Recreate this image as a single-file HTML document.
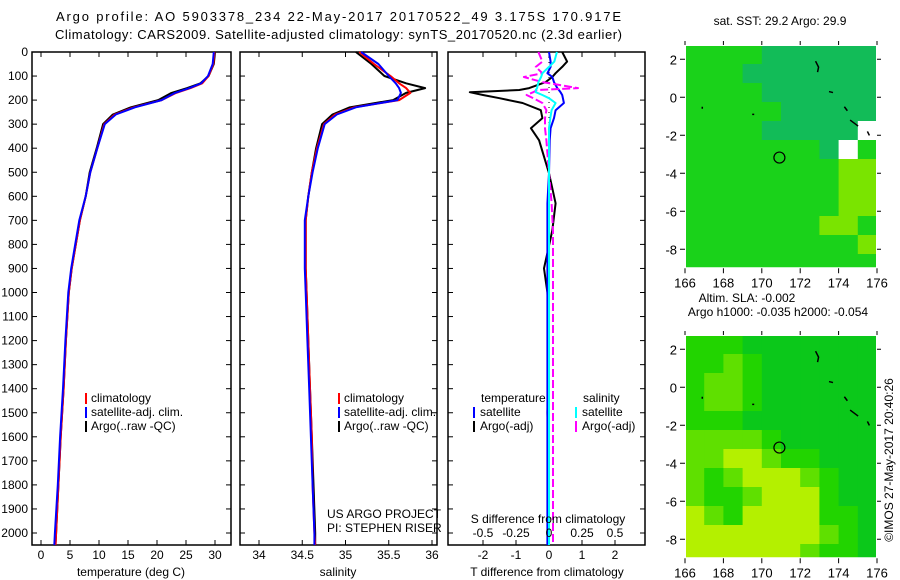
<!DOCTYPE html>
<html><head><meta charset="utf-8"><style>
html,body{margin:0;padding:0;background:#fff;}
svg{display:block;font-family:"Liberation Sans",sans-serif;}
text{fill:#000;}
</style></head><body>
<svg id="fig" width="900" height="580" viewBox="0 0 900 580">
<text x="56" y="21" font-size="13" textLength="565">Argo profile: AO 5903378_234 22-May-2017 20170522_49 3.175S 170.917E</text>
<text x="55" y="39" font-size="13" textLength="567">Climatology: CARS2009. Satellite-adjusted climatology: synTS_20170520.nc (2.3d earlier)</text>
<g id="g"></g>
</svg>
<script>
// ---- profile data ----
const depths = [0,50,100,130,150,170,200,230,260,300,400,500,600,700,800,900,1000,1200,1400,1600,1800,2000,2050];
const tempArgo = [30.0,29.8,28.9,27.5,25.2,22.5,20.2,15.5,12.4,10.7,9.6,8.4,7.7,6.7,6.0,5.3,4.8,4.3,3.9,3.4,3.0,2.6,2.5];
const tempClim = [29.9,29.7,28.9,27.8,25.8,23.3,20.8,16.0,12.7,10.9,9.7,8.5,7.7,6.7,6.0,5.3,4.8,4.3,3.9,3.4,3.0,2.6,2.5];
const tempSat  = [29.8,29.6,28.8,27.6,25.6,23.1,20.8,16.2,12.9,11.0,9.7,8.5,7.7,6.6,5.9,5.2,4.7,4.2,3.8,3.3,2.9,2.4,2.3];
const salArgo = [35.12,35.30,35.45,35.70,35.92,35.70,35.55,35.05,34.85,34.73,34.66,34.61,34.57,34.54,34.54,34.54,34.55,34.57,34.59,34.61,34.63,34.65,34.65];
const salClim = [35.16,35.33,35.52,35.62,35.70,35.75,35.62,35.10,34.88,34.75,34.67,34.61,34.57,34.54,34.54,34.54,34.55,34.57,34.59,34.61,34.62,34.64,34.65];
const salSat  = [35.18,35.38,35.50,35.58,35.62,35.64,35.60,35.12,34.90,34.76,34.68,34.62,34.57,34.53,34.53,34.53,34.54,34.56,34.58,34.60,34.62,34.64,34.64];
// ---- difference data ----
const diffDepths = [0,40,62,88,104,125,150,158,167,179,192,212,242,275,317,367,504,629,742,900,1000,1200,1500,1800,2050];
const tDiffArgo = [0.4,0.55,0.4,0.2,0.1,-0.1,-0.6,-0.9,-2.4,-2.0,-1.5,-0.8,-0.25,-0.2,-0.55,-0.3,0.0,0.2,0.1,-0.15,-0.05,0.0,-0.05,0.0,0.0];
const tDiffSat  = [0.0,0.05,0.05,-0.05,0.1,0.15,0.25,0.3,0.35,0.4,0.42,0.45,0.2,0.15,0.05,0.02,0.0,-0.05,-0.05,-0.05,-0.05,-0.05,-0.05,-0.05,-0.05];
const sDiffArgo = [-0.08,-0.05,-0.1,-0.05,-0.19,-0.05,0.22,-0.09,-0.12,-0.17,-0.12,-0.05,-0.02,-0.03,-0.03,-0.02,0.0,0.02,0.03,0.03,0.03,0.03,0.03,0.03,0.03];
const sDiffSat  = [0.06,0.04,0.0,-0.05,-0.06,-0.08,-0.09,-0.1,-0.1,-0.05,0.0,0.05,0.02,0.01,0.0,0.0,0.0,0.0,0.0,0.0,0.0,0.0,0.0,0.0,0.0];
const depthTicks = [0,100,200,300,400,500,600,700,800,900,1000,1100,1200,1300,1400,1500,1600,1700,1800,1900,2000];
const tempTicks = [0,5,10,15,20,25,30];
const salTicks = [34,34.5,35,35.5,36];
const tDiffTicks = [-2,-1,0,1,2];
const sDiffTicks = [-0.5,-0.25,0,0.25,0.5];
// ---- map data (1-degree cells, rows from north) ----
const sstGrid = ["ggggtttttt","gggttttttt","ggggtttttt","gggggttttt","ggggtttttw","gggggggtwg","ggggggggyy","ggggggggyy","ggggggggyy","gggggggyyg","gggggggggy","gggggggggg"];
const slaGrid = ["gggGGGGGGG","gglgGGGGGG","gllgGGGGGG","gllgGGGGGG","gggGGGGGGG","llllgGGGGG","llyylggGGG","lglyyylgGG","lgglyyygGG","ylgyyyyggG","yyyyyyylgG","yyyyyylggG"];
const latTicks = [2,0,-2,-4,-6,-8];
const lonTicks = [166,168,170,172,174,176];
const floatLon = 170.917, floatLat = -3.175;

const NS='http://www.w3.org/2000/svg';
const G=document.getElementById('g');
function el(tag,attrs,parent){const e=document.createElementNS(NS,tag);for(const k in attrs)e.setAttribute(k,attrs[k]);(parent||G).appendChild(e);return e;}
function txt(x,y,s,size,anchor,parent){const t=el('text',{x:x,y:y,'font-size':size||12,'text-anchor':anchor||'start'},parent);t.textContent=s;return t;}

const PT=52,PB=545;
const yD=d=>PT+d*0.2405;
const xT=v=>41+v*5.8;
const xS=v=>259+(v-34)*86.5;
const xTD=v=>549+v*33;
const xSD=v=>549+v*132;

function frame(x0,x1,name){
  const r=el('rect',{x:x0,y:PT,width:x1-x0,height:PB-PT,fill:'none',stroke:'#000','stroke-width':1.5});
  
  
}
function line(xs,ds,fx,fy,color,name,dash){
  let p='';xs.forEach((v,i)=>{p+=(i?'L':'M')+fx(v).toFixed(1)+','+fy(ds[i]).toFixed(1);});
  const a={d:p,fill:'none',stroke:color,'stroke-width':2,'stroke-linejoin':'round'};
  if(dash)a['stroke-dasharray']=dash;
  const e=el('path',a);
  
  
}
function xticks(ticks,fx,labelY,fmt){
  ticks.forEach(v=>{const x=fx(v);
    el('line',{x1:x,x2:x,y1:PT,y2:PT+5,stroke:'#000'});
    el('line',{x1:x,x2:x,y1:PB,y2:PB-5,stroke:'#000'});
    if(labelY){const t=txt(x,labelY,fmt?fmt(v):String(v),12,'middle');
      
      }
  });
}
// Panel 1 temperature
frame(32,231,'temperature-panel');
depthTicks.forEach(d=>{const y=yD(d);
  el('line',{x1:32,x2:37,y1:y,y2:y,stroke:'#000'});
  el('line',{x1:231,x2:226,y1:y,y2:y,stroke:'#000'});
  const t=txt(28,y+4,String(d),12,'end');
  
  
});
xticks(tempTicks,xT,559);
line(tempArgo,depths,xT,yD,'#000','temp-argo-line');
line(tempClim,depths,xT,yD,'#f00','temp-climatology-line');
line(tempSat,depths,xT,yD,'#00f','temp-satellite-line');
let t=txt(131,576,'temperature (deg C)',12,'middle');



function legend3(x,y0,name){
  const items=[['#f00','climatology'],['#00f','satellite-adj. clim.'],['#000','Argo(..raw -QC)']];
  items.forEach((it,i)=>{const y=y0+i*14;
    const g=el('g',{});
    
    
    el('rect',{x:x,y:y-9,width:2,height:11,fill:it[0]},g);
    txt(x+6,y,it[1],12,'start',g);
  });
}
legend3(85,402,'temp-legend');

// Panel 2 salinity
frame(240,437,'salinity-panel');
depthTicks.forEach(d=>{const y=yD(d);
  el('line',{x1:240,x2:245,y1:y,y2:y,stroke:'#000'});
  el('line',{x1:437,x2:432,y1:y,y2:y,stroke:'#000'});});
xticks(salTicks,xS,559);
line(salArgo,depths,xS,yD,'#000','salinity-argo-line');
line(salClim,depths,xS,yD,'#f00','salinity-climatology-line');
line(salSat,depths,xS,yD,'#00f','salinity-satellite-line');
t=txt(338,576,'salinity',12,'middle');


legend3(338,402,'salinity-legend');
t=txt(327,518,'US ARGO PROJECT',12);


t=txt(327,532,'PI: STEPHEN RISER',12);



// Panel 3 differences
frame(448,645,'difference-panel');
depthTicks.forEach(d=>{const y=yD(d);
  el('line',{x1:448,x2:453,y1:y,y2:y,stroke:'#000'});
  el('line',{x1:645,x2:640,y1:y,y2:y,stroke:'#000'});});
xticks(tDiffTicks,xTD,559);
el('line',{x1:xTD(0),x2:xTD(0),y1:PT,y2:PB,stroke:'#000','stroke-dasharray':'1,4'});
line(tDiffArgo,diffDepths,xTD,yD,'#000','t-diff-argo-line');
line(tDiffSat,diffDepths,xTD,yD,'#00f','t-diff-satellite-line');
line(sDiffArgo,diffDepths,xSD,yD,'#f0f','s-diff-argo-line','8,3');
line(sDiffSat,diffDepths,xSD,yD,'#0ff','s-diff-satellite-line');
sDiffTicks.forEach(v=>{const t=txt(xSD(v),537,String(v),12,'middle');
  
  });
t=txt(548,523,'S difference from climatology',12,'middle');


t=txt(547,576,'T difference from climatology',12,'middle');


t=txt(481,402,'temperature',12);


t=txt(583,402,'salinity',12);


[[473,416,'#00f','satellite'],[473,430,'#000','Argo(-adj)'],[575,416,'#0ff','satellite'],[575,430,'#f0f','Argo(-adj)']].forEach(it=>{
  const g=el('g',{});
  
  
  el('rect',{x:it[0],y:it[1]-9,width:2,height:11,fill:it[2]},g);
  txt(it[0]+7,it[1],it[3],12,'start',g);
});

// Maps
const sstColors={g:'#1ad21a',t:'#12bc58',y:'#7ae400',w:'#ffffff'};
const slaColors={G:'#0bc81a',g:'#22d400',l:'#5fe000',y:'#b4f000'};
function map(top,grid,colors,name){
  const L=685,R=877,latTop=2.75,latBot=-9.0,B=top+(latTop-latBot)*19;
  const fx=v=>L+(v-166)*(R-L)/10, fy=v=>top+(latTop-v)*19;
  const g=el('g',{});
  
  
  grid.forEach((row,ri)=>{for(let ci=0;ci<row.length;ci++){
    const la0=latTop-ri, la1=Math.max(latTop-ri-1,latBot);
    const c=el('rect',{x:fx(166+ci),y:fy(la0),width:fx(167+ci)-fx(166+ci)+0.5,height:fy(la1)-fy(la0)+0.5,fill:colors[row[ci]]},g);
    
    
  }});
  el('rect',{x:L,y:top,width:R-L,height:B-top,fill:'none',stroke:'#fff','stroke-width':2},g);
  latTicks.forEach(v=>{const y=fy(v);
    el('line',{x1:L-5,x2:L,y1:y,y2:y,stroke:'#000'},g);
    el('line',{x1:R,x2:R+4,y1:y,y2:y,stroke:'#000'},g);
    txt(677,y+5,String(v),13,'end',g);});
  lonTicks.forEach(v=>{const x=fx(v);
    el('line',{x1:x,x2:x,y1:top-4,y2:top,stroke:'#000'},g);
    el('line',{x1:x,x2:x,y1:B,y2:B+5,stroke:'#000'},g);
    txt(x,B+19,String(v),13,'middle',g);});
  el('path',{d:`M${fx(172.8)},${fy(1.9)} l3,6 l-1,5 M${fx(173.5)},${fy(0.3)} l4,1 M${fx(174.3)},${fy(-0.5)} l3,4 M${fx(174.6)},${fy(-1.2)} l8,6 M${fx(175.5)},${fy(-1.8)} l2,4 M${fx(169.5)},${fy(-0.9)} l2,0 M${fx(166.9)},${fy(-0.5)} l0,2`,stroke:'#000',fill:'none','stroke-width':1.5},g);
  const c=el('circle',{cx:fx(floatLon),cy:fy(floatLat),r:5.5,fill:'none',stroke:'#000','stroke-width':1.2},g);
  
  
}
map(45,sstGrid,sstColors,'sst-map');
map(335,slaGrid,slaColors,'sla-map');
t=txt(780,25,'sat. SST: 29.2  Argo: 29.9',12,'middle');


t=txt(747,302,'Altim. SLA: -0.002',12,'middle');


t=txt(778,316,'Argo h1000: -0.035  h2000: -0.054',12,'middle');


t=txt(0,0,'©IMOS 27-May-2017 20:40:26',12,'middle');
t.setAttribute('transform','translate(893,460) rotate(-90)');


</script>
</body></html>
